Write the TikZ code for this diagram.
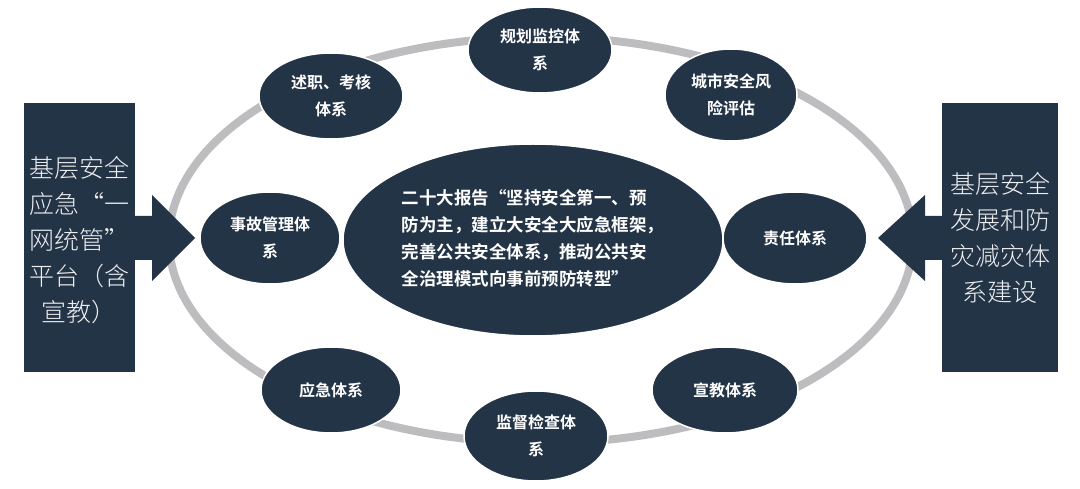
\documentclass[tikz,border=0pt]{standalone}
\usepackage{fontspec}
\newfontfamily\cjkb{Noto Sans CJK SC Bold}
\newfontfamily\cjkl{Noto Sans CJK SC Light}
\definecolor{navy}{HTML}{243447}
\definecolor{ring}{HTML}{BDBDBF}
\begin{document}
\begin{tikzpicture}[x=1pt,y=-1pt,
  side/.style={text=white!92!navy,font=\cjkl\fontsize{25}{36}\selectfont,align=left}]
\useasboundingbox (0,0) rectangle (1080,489);
\draw[ring,line width=8pt] (541,240) ellipse [x radius=372,y radius=203];
\fill[navy] (24,103) rectangle (135,372);
\fill[navy] (135,216) -- (152,216) -- (152,195) -- (195,238) -- (152,281) -- (152,260) -- (135,260) -- cycle;
\fill[navy] (942,103) rectangle (1058,372);
\fill[navy] (942,216) -- (925,216) -- (925,195) -- (878,238) -- (925,281) -- (925,260) -- (942,260) -- cycle;
\node[side] (L) at (80,240) {基层安全\\应急“一\\网统管”\\平台（含\\\ \ 宣教）};
\node[side,align=center] (R) at (1000,238) {基层安全\\发展和防\\灾减灾体\\系建设};
\path[fill=navy,draw=white,line width=1.5pt] (533,240) ellipse [x radius=190,y radius=96];
\node[text=white,font=\cjkb\fontsize{17.5}{27}\selectfont,align=left] (C) at (533,238) {二十大报告“坚持安全第一、预\\防为主，建立大安全大应急框架，\\完善公共安全体系，推动公共安\\全治理模式向事前预防转型”};
\newcommand\smell[5]{\path[fill=navy,draw=white,line width=1.5pt] (#1,#2) ellipse [x radius=#3,y radius=#4];
  \node[text=white,font=\cjkb\fontsize{16}{27}\selectfont,align=center] at (#1,#2) {#5};}
\smell{540}{50}{72}{43}{规划监控体\\系}
\smell{731}{95}{66}{46}{城市安全风\\险评估}
\smell{331}{96}{72}{43}{述职、考核\\体系}
\smell{270}{238}{70}{46}{事故管理体\\系}
\smell{795}{238}{72}{46}{责任体系}
\smell{331}{390}{70}{43}{应急体系}
\smell{536}{436}{72}{45}{监督检查体\\系}
\smell{725}{390}{73}{43}{宣教体系}
\end{tikzpicture}
\end{document}
